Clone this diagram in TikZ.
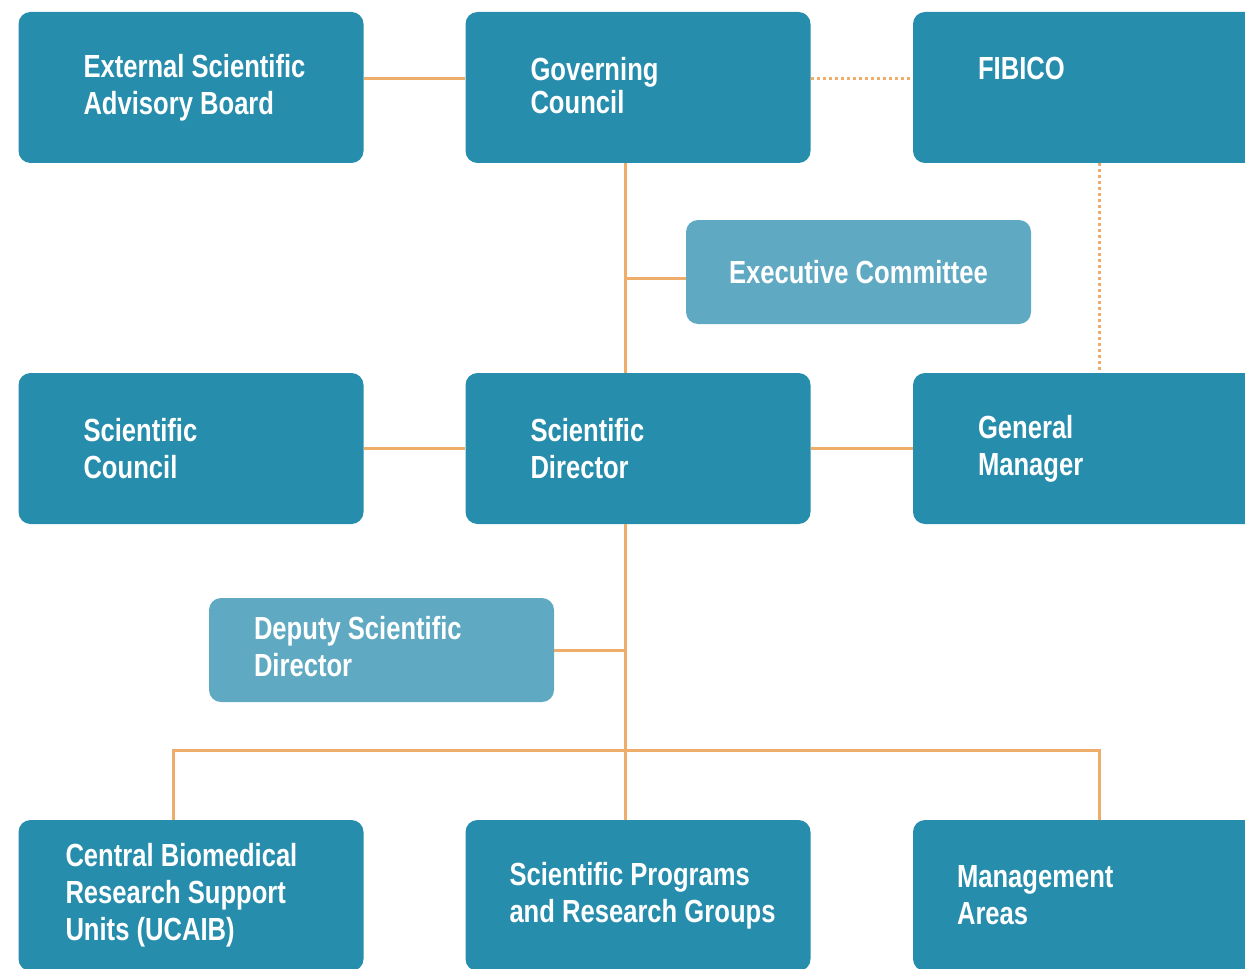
\documentclass[tikz,border=0pt]{standalone}
\usepackage{fontspec}
\newfontfamily\orgfont{Liberation Sans}[FakeStretch=0.8]
\usepackage{tikz}
\usetikzlibrary{positioning,calc}
\usepackage{xcolor}
\definecolor{unitblue}{HTML}{268DAC}
\definecolor{subblue}{HTML}{5FAAC2}
\definecolor{linkorange}{HTML}{EEAD6B}

\begin{document}
\begin{tikzpicture}[x=0.5pt, y=-0.5pt,
    unit/.style={rectangle, rounded corners=6pt, fill=unitblue, minimum width=172.5pt, minimum height=75.5pt, inner sep=0pt},
    subunit/.style={unit, fill=subblue, minimum height=52pt, text=white, font=\orgfont\bfseries\fontsize{16}{18.5}\selectfont},
    lbl/.style={text=white, align=left, inner sep=0pt, font=\orgfont\bfseries\fontsize{16}{18.5}\selectfont},
    link/.style={draw=linkorange, line width=1.5pt},
    dotlink/.style={link, dash pattern=on 1.5pt off 1.5pt}]
                    \clip (0,0) rectangle (1245,968);
                    \useasboundingbox (0,0) rectangle (1245,968);
                    % boxes
                    \node[unit] (esab) at (191,87.5) {};
                    \node[unit] (gc) at (638,87.5) {};
                    \node[unit] (fibico) at (1085.5,87.5) {};
                    \node[subunit] (exec) at (858.5,272) {Executive Committee};
                    \node[unit] (sc) at (191,448.5) {};
                    \node[unit] (sd) at (638,448.5) {};
                    \node[unit] (gm) at (1085.5,448.5) {};
                    \node[subunit] (deputy) at (381.5,650) {};
                    \node[unit] (ucaib) at (191,895.5) {};
                    \node[unit] (spg) at (638,895.5) {};
                    \node[unit] (mgmt) at (1085.5,895.5) {};
                    % texts
                    \node[lbl, right=32.5pt of esab.west] (esabtxt) {External Scientific\\Advisory Board};
                    \node[lbl, right=32.5pt of gc.west, yshift=1pt] (gctxt) {Governing\\[-2pt]Council};
                    \node[lbl, right=32.5pt of fibico.west, yshift=9.5pt] (fibicotxt) {FIBICO};
                    \node[lbl, right=32.5pt of sc.west] (sctxt) {Scientific\\Council};
                    \node[lbl, right=32.5pt of sd.west] (sdtxt) {Scientific\\Director};
                    \node[lbl, right=32.5pt of gm.west] (gmtxt) {General\\Manager};
                    \node[lbl, right=22.5pt of deputy.west, yshift=1.5pt] (deputytxt) {Deputy Scientific\\Director};
                    \node[lbl, right=23.5pt of ucaib.west] (ucaibtxt) {Central Biomedical\\Research Support\\Units (UCAIB)};
                    \node[lbl, right=22pt of spg.west] (spgtxt) {Scientific Programs\\and Research Groups};
                    \node[lbl, right=22pt of mgmt.west] (mgmttxt) {Management\\Areas};
                    % connectors
                    \coordinate (spine) at (625,0);
                    \coordinate (lbus) at (173,750);
                    \coordinate (rbus) at (1099,750);
                    \draw[link] ([yshift=4.25pt]esab.east) -- ([yshift=4.25pt]gc.west);
                    \draw[dotlink] ([yshift=4.25pt]gc.east) -- ([yshift=4.25pt]fibico.west);
                    \draw[dotlink] (fibico.south -| rbus) -- (gm.north -| rbus);
                    \draw[link] (gc.south -| spine) -- (sd.north -| spine);
                    \draw[link] ([yshift=-3pt]exec.west) -- ([yshift=-3pt]exec.west -| spine);
                    \draw[link] (sc) -- (sd);
                    \draw[link] (sd) -- (gm);
                    \draw[link] (sd.south -| spine) -- (spg.north -| spine);
                    \draw[link] (deputy.east) -- (deputy.east -| spine);
                    \draw[link] (ucaib.north -| lbus) -- (lbus) -- (rbus) -- (mgmt.north -| rbus);
                \end{tikzpicture}
\end{document}
